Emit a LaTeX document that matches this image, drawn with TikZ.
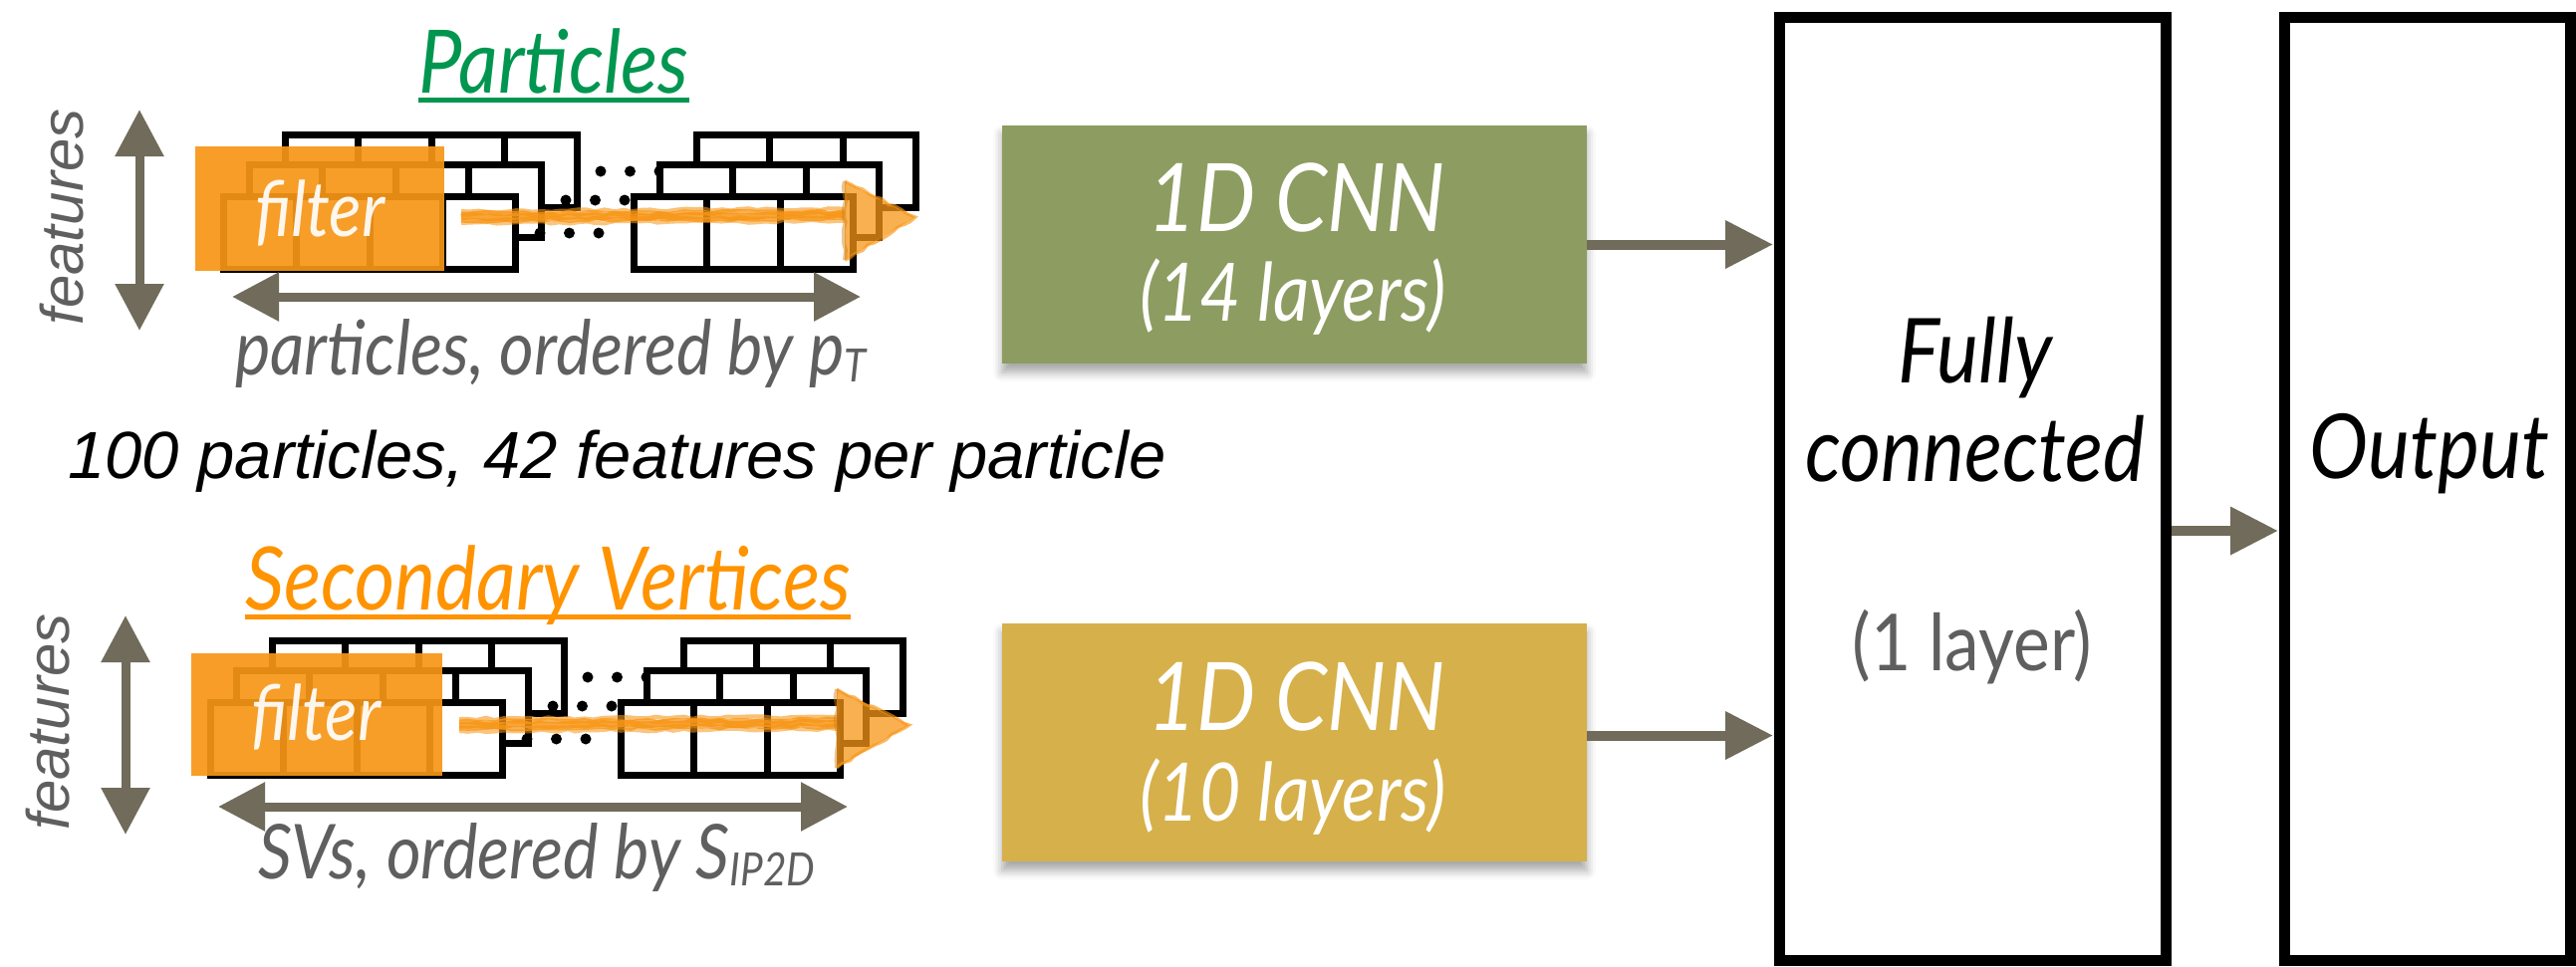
\documentclass[tikz,border=0pt]{standalone}
\usepackage{fontspec}
\usetikzlibrary{arrows.meta,shadows.blur,decorations.pathmorphing}

\newfontfamily\gillfont[FakeStretch=0.88]{Lato}
\newfontfamily\helvfont{Liberation Sans}

\definecolor{arrowgray}{RGB}{112,107,90}
\definecolor{labelgray}{RGB}{95,95,95}
\definecolor{titlegreen}{RGB}{0,150,80}
\definecolor{titleorange}{RGB}{255,147,0}
\definecolor{filterorange}{RGB}{247,150,22}
\definecolor{cnngreen}{RGB}{141,156,96}
\definecolor{cnngold}{RGB}{214,176,74}

\newcommand{\fsz}[1]{\fontsize{#1}{#1}\selectfont}

% one row of square cells: outer top-left corner (x,y) and number of cells
\newcommand{\cellrow}[3]{%
  \fill[white] (#1,#2) rectangle ({#1+#3*73.3+7},{#2+80});
  \foreach \i in {1,...,#3}
    \draw[gridline] ({#1+3.5+(\i-1)*73.3},{#2+3.5}) rectangle ++(73.3,73);
}
% three dots continuing a row
\newcommand{\rowdots}[2]{%
  \foreach \k in {0,1,2} \fill ({#1+\k*29.5},#2) circle (5.5pt);
}
% stacked feature rows: left block of four cells, right block of three
\newcommand{\featurestack}{%
  \cellrow{283}{132}{4}\cellrow{696}{132}{3}\rowdots{603}{172}
  \cellrow{247}{162}{4}\cellrow{659}{162}{3}\rowdots{568}{201}
  \cellrow{221}{194}{4}\cellrow{633}{194}{3}\rowdots{542}{234}
}
% hand-brushed arrow: shaft start x, shaft end x, y, tip x
\newcommand{\brusharrow}[4]{%
  \foreach \dy/\lw/\op in {-6/4/0.6,-3/5/0.75,0/7/0.85,3/5/0.75,6/4/0.55}
    \draw[filterorange, line width=\lw pt, opacity=\op, decorate,
          decoration={random steps, segment length=9pt, amplitude=1.3pt}]
      (#1,{#3+\dy}) -- (#2,{#3+\dy-2});
  \fill[filterorange, opacity=0.75] (#2,{#3-36}) -- (#4,{#3}) -- (#2,{#3+43}) -- cycle;
  \draw[filterorange!85!black, opacity=0.45, line width=4pt, decorate,
        decoration={random steps, segment length=7pt, amplitude=1.5pt}]
    (#2,{#3-36}) -- (#2,{#3+43});
  \draw[filterorange, opacity=0.65, line width=3pt, decorate,
        decoration={random steps, segment length=7pt, amplitude=1.5pt}]
    (#2,{#3-36}) -- (#4,{#3}) -- (#2,{#3+43});
}

\begin{document}
\begin{tikzpicture}[x=1pt,y=-1pt,
  gridline/.style={line width=7pt, draw=black},
  flow/.style={draw=arrowgray, line width=10pt, shorten >=1pt,
    -{Triangle[length=48pt,width=46pt]}},
  dimarrow/.style={draw=arrowgray, line width=9pt,
    {Triangle[length=47pt,width=47pt]}-{Triangle[length=47pt,width=47pt]}},
  filterbox/.style={fill=filterorange, opacity=0.92},
  filtertext/.style={font=\gillfont\itshape\fsz{77}, text=white, text opacity=0.92,
    inner sep=0pt, anchor=base west},
  title/.style={font=\gillfont\itshape\fsz{88}, inner sep=0pt, anchor=base},
  axislabel/.style={font=\gillfont\itshape\fsz{76}, text=labelgray, inner sep=0pt, anchor=base},
  featlabel/.style={font=\helvfont\itshape\fsz{60}, text=labelgray, inner sep=0pt,
    rotate=90, anchor=base},
  cnnbox/.style={minimum width=587pt, minimum height=239pt, inner sep=0pt,
    blur shadow={shadow xshift=0pt, shadow yshift=-9pt, shadow blur radius=9pt,
      shadow opacity=35}},
  cnntext/.style={font=\gillfont\itshape\fsz{95}, text=white, inner sep=0pt, anchor=base},
  cnnsub/.style={font=\gillfont\itshape\fsz{81}, text=white, inner sep=0pt, anchor=base},
  layerbox/.style={draw=black, line width=11pt, inner sep=0pt, minimum height=947pt},
  boxtext/.style={font=\gillfont\itshape\fsz{90}, inner sep=0pt, anchor=base},
]
\useasboundingbox (0,0) rectangle (2586,970);

% ---------- particle inputs ----------
\node[title, text=titlegreen] (ptitle) at (556,93) {Particles};
\draw[titlegreen, line width=5pt] ([yshift=-7pt]ptitle.base west) -- ([yshift=-7pt]ptitle.base east);

\featurestack
\fill[filterbox] (196,147) rectangle (446,272);
\node[filtertext] (pfilter) at (256,237) {filter};
\brusharrow{463}{848}{218}{919}

\draw[dimarrow] (140,110) -- (140,332);
\node[featlabel] (pfeat) at (83,218) {features};
\draw[dimarrow] (233,298) -- (864,298);
\node[axislabel] (paxis) at (553,376) {particles, ordered by p\raisebox{-0.1em}{\fsz{46}T}};

\node[font=\helvfont\itshape\fsz{67}, inner sep=0pt, anchor=base west] (pcount) at (68,480)
  {100 particles, 42 features per particle};

% ---------- secondary vertex inputs ----------
\node[title, text=titleorange] (svtitle) at (550,612) {Secondary Vertices};
\draw[titleorange, line width=5pt] ([yshift=-7pt]svtitle.base west) -- ([yshift=-7pt]svtitle.base east);

\begin{scope}[shift={(-13,508)}]
  \featurestack
\end{scope}
\fill[filterbox] (192,656) rectangle (444,779);
\node[filtertext] (svfilter) at (252,743) {filter};
\brusharrow{461}{840}{728}{913}

\draw[dimarrow] (126,618) -- (126,838);
\node[featlabel] (svfeat) at (69,725) {features};
\draw[dimarrow] (219,810) -- (851,810);
\node[axislabel] (svaxis) at (539,882) {SVs, ordered by S\raisebox{-0.1em}{\fsz{46}IP2D}};

% ---------- convolutional blocks ----------
\node[cnnbox, fill=cnngreen] (cnn1) at (1299.5,245.5) {};
\node[cnntext] (cnn1a) at (1302,232) {1D CNN};
\node[cnnsub] (cnn1b) at (1298,322) {(14 layers)};

\node[cnnbox, fill=cnngold] (cnn2) at (1299.5,745.5) {};
\node[cnntext] (cnn2a) at (1302,733) {1D CNN};
\node[cnnsub] (cnn2b) at (1298,824) {(10 layers)};

% ---------- dense part ----------
\node[layerbox, minimum width=388pt] (fc) at (1980.5,491) {};
\node[boxtext] (fc1) at (1983,384) {Fully};
\node[boxtext] (fc2) at (1983,483) {connected};
\node[font=\gillfont\fsz{79}, text=labelgray, inner sep=0pt, anchor=base] (fc3) at (1980,673) {(1 layer)};

\node[layerbox, minimum width=287pt] (out) at (2437,491) {};
\node[boxtext] (out1) at (2439,480) {Output};

% ---------- connections ----------
\draw[flow] (cnn1.east) -- (cnn1.east -| fc.west);
\draw[flow] ([yshift=7pt]cnn2.east) -- ([yshift=7pt]cnn2.east -| fc.west);
\draw[flow] ([yshift=-42pt]fc.east) -- ([yshift=-42pt]fc.east -| out.west);
\end{tikzpicture}
\end{document}
